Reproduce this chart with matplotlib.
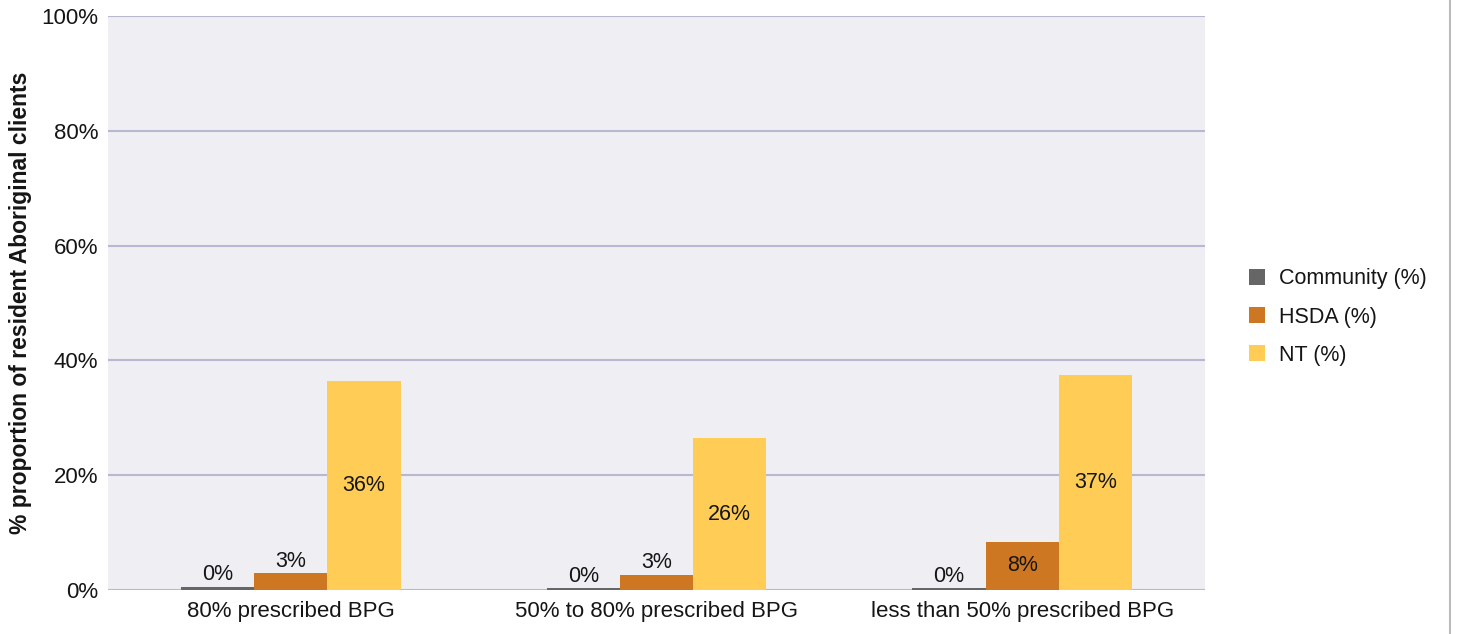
import numpy as np
import matplotlib as mpl
mpl.use("Agg")
import matplotlib.pyplot as plt
from matplotlib.lines import Line2D

# data
categories = ["80% prescribed BPG", "50% to 80% prescribed BPG", "less than 50% prescribed BPG"]
series_names = ["Community (%)", "HSDA (%)", "NT (%)"]
community = [0.5, 0.3, 0.3]
hsda = [2.9, 2.6, 8.4]
nt = [36.4, 26.4, 37.4]
y_ticks = [0, 20, 40, 60, 80, 100]

colors = ["#666666", "#CE7722", "#FFCC55"]
txt_col = "#151515"

plt.rcParams["font.family"] = ["Liberation Sans", "DejaVu Sans"]
fs = 15.5

fig = plt.figure(figsize=(14.58, 6.34), dpi=100)
ax = fig.add_axes([108/1458, 44/634, 1097/1458, 574/634])
ax.set_facecolor("#EEEEF3")

x = np.arange(len(categories))
w = 0.2
for i, (vals, name) in enumerate(zip([community, hsda, nt], series_names)):
    pos = x + (i - 1) * w
    bars = ax.bar(pos, vals, w, color=colors[i], label=name, zorder=3)
    for b, v in zip(bars, vals):
        cx = b.get_x() + b.get_width() / 2
        if v < 5:
            ax.text(cx, v + 0.3, "%d%%" % round(v), ha="center", va="bottom",
                    fontsize=fs, color=txt_col, zorder=4)
        else:
            ax.text(cx, v / 2, "%d%%" % round(v), ha="center", va="center",
                    fontsize=fs, color=txt_col, zorder=4)

ax.set_xlim(-0.5, len(categories) - 0.5)
ax.set_ylim(0, 100)
ax.set_yticks(y_ticks)
ax.set_yticklabels(["%d%%" % t for t in y_ticks])
ax.set_xticks(x)
ax.set_xticklabels(categories, fontsize=16)
ax.tick_params(axis="both", length=0, colors=txt_col)
ax.tick_params(axis="y", pad=7, labelsize=16)
ax.tick_params(axis="x", pad=8)
ax.yaxis.grid(True, color="#B8B8D0", linewidth=1.5, zorder=1)
ax.set_axisbelow(True)
for s in ax.spines.values():
    s.set_visible(False)

ax.set_ylabel("% proportion of resident Aboriginal clients", fontsize=16.5,
              fontweight="bold", color=txt_col, labelpad=7)

ax.legend(loc="center left", bbox_to_anchor=(1249/1458, 0.5),
          bbox_transform=fig.transFigure, frameon=False, fontsize=fs,
          handlelength=0.75, handleheight=0.75, handletextpad=0.65,
          labelspacing=0.8, borderpad=0, borderaxespad=0, labelcolor=txt_col)

# thin frame line on the right edge
fig.add_artist(Line2D([1450/1458, 1450/1458], [0, 1], transform=fig.transFigure,
                      color="#BBBBBB", linewidth=1.5))

fig.savefig("out.png", dpi=100)
